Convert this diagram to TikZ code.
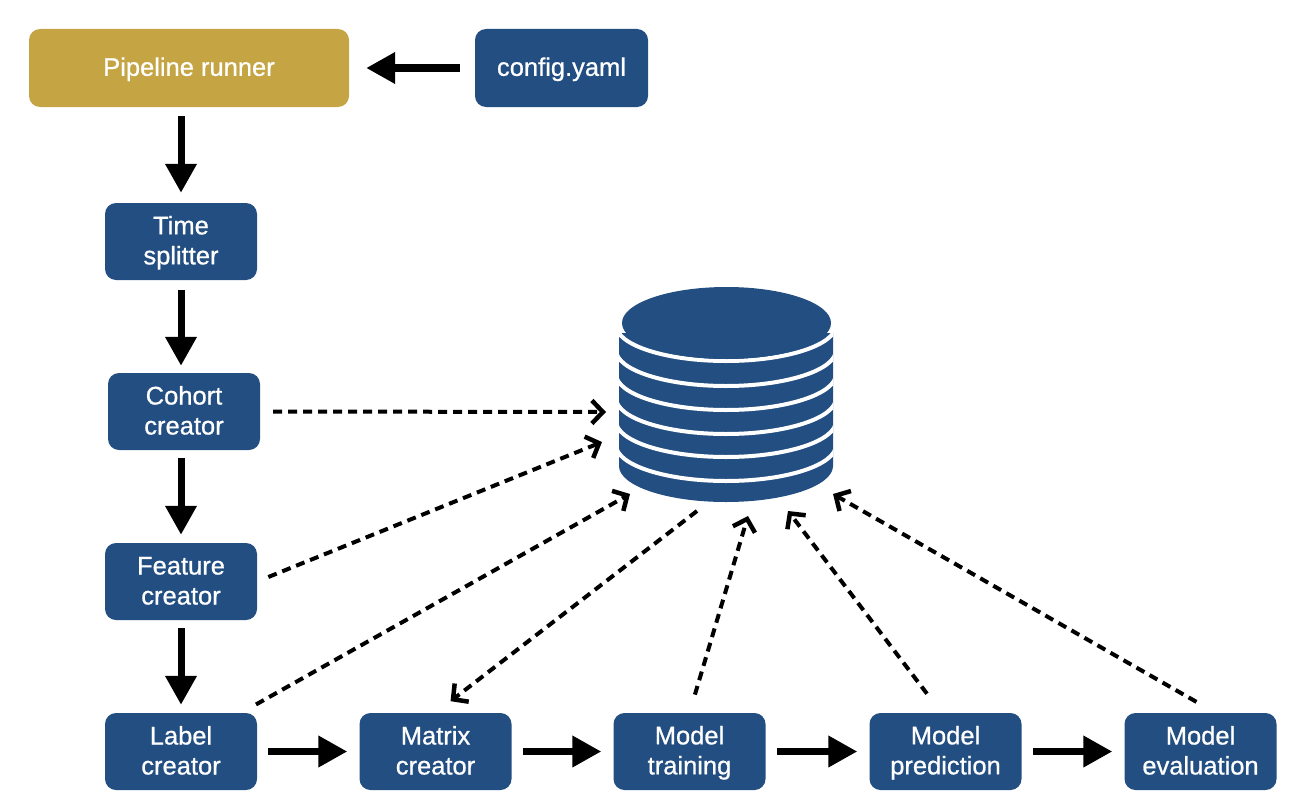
\documentclass[tikz,border=0pt]{standalone}
\usepackage{fontspec}
\setmainfont{Liberation Sans}[FakeBold=0.8]
\usetikzlibrary{arrows.meta}
\definecolor{stepblue}{HTML}{224E82}
\definecolor{rungold}{HTML}{C4A443}
\newcommand{\linestrut}{\rule[-5pt]{0pt}{26pt}}
\tikzset{
    stepbox/.style={fill=stepblue,text=white,rounded corners=11pt,minimum width=152pt,minimum height=77pt,align=center,inner sep=0pt,
        font=\fontsize{25.5}{30}\selectfont},
    bigarrow/.style={line width=7pt,-{Triangle[length=29pt,width=30pt]}},
    dasharrow/.style={line width=4pt,dash pattern=on 9pt off 6pt,-{Straight Barb[length=11pt,width=23pt,line width=4.5pt]}}
}
\begin{document}
\begin{tikzpicture}[x=1pt,y=-1pt]
    \useasboundingbox (0,0) rectangle (1308,800);
    % boxes
    \node[stepbox,fill=rungold,minimum width=320pt,minimum height=78pt] (pipeline) at (189,68) {\linestrut Pipeline runner};
    \node[stepbox,minimum width=173pt,minimum height=78pt] (config) at (561.5,68) {\linestrut config.yaml};
    \node[stepbox] (time) at (181,241.5) {\linestrut Time\\\linestrut splitter};
    \node[stepbox] (cohort) at (184,411.5) {\linestrut Cohort\\\linestrut creator};
    \node[stepbox] (feature) at (181,581.5) {\linestrut Feature\\\linestrut creator};
    \node[stepbox] (label) at (181,751.5) {\linestrut Label\\\linestrut creator};
    \node[stepbox] (matrix) at (435.5,751.5) {\linestrut Matrix\\\linestrut creator};
    \node[stepbox] (training) at (689.5,751.5) {\linestrut Model\\\linestrut training};
    \node[stepbox] (prediction) at (945.5,751.5) {\linestrut Model\\\linestrut prediction};
    \node[stepbox] (evaluation) at (1200.5,751.5) {\linestrut Model\\\linestrut evaluation};
    % database
    \fill[stepblue] (619,333) -- (833,333) -- (833,466) arc[start angle=0,end angle=-180,x radius=107pt,y radius=36pt] -- cycle;
    \begin{scope}
        \clip (619,300) rectangle (833,510);
        \foreach \y in {325,350,374,398,421,445}
        {
            \draw[white,line width=4pt] (616,\y) arc[start angle=180,end angle=360,x radius=110pt,y radius=36pt];
        }
    \end{scope}
    \fill[white] (616,325) arc[start angle=180,end angle=0,x radius=110pt,y radius=36pt] -- cycle;
    \fill[stepblue] (726.5,323) ellipse[x radius=104.5pt,y radius=36pt];
    \coordinate (dbcohort) at (606,412);
    \coordinate (dbfeature) at (602,442);
    \coordinate (dblabel) at (630,494);
    \coordinate (dbmatrix) at (697,511);
    \coordinate (dbtraining) at (748,516);
    \coordinate (dbprediction) at (788,511);
    \coordinate (dbevaluation) at (833,494);
    % solid arrows
    \draw[bigarrow,shorten <=15pt,shorten >=17pt] (config.west) -- (pipeline.east);
    \draw[bigarrow,shorten <=9pt,shorten >=10pt] (time.north |- pipeline.south) -- (time.north);
    \draw[bigarrow,shorten <=10pt,shorten >=7pt] (time.south) -- (time.south |- cohort.north);
    \draw[bigarrow,shorten <=8pt,shorten >=8pt] (feature.north |- cohort.south) -- (feature.north);
    \draw[bigarrow,shorten <=8pt,shorten >=8pt] (feature.south) -- (label.north);
    \foreach \a/\b in {label/matrix,matrix/training,training/prediction,prediction/evaluation}
    {
        \draw[bigarrow,shorten <=11pt,shorten >=12pt] (\a.east) -- (\b.west);
    }
    % dashed arrows
    \draw[dasharrow,shorten <=13pt] (cohort.east) -- (dbcohort);
    \draw[dasharrow,shorten <=12pt] (feature.east) -- (dbfeature);
    \draw[dasharrow,shorten <=17pt] ([xshift=-16pt]label.north east) -- (dblabel);
    \draw[dasharrow,shorten >=19pt] (dbmatrix) -- (matrix.north);
    \draw[dasharrow,shorten <=19pt] (training.north) -- (dbtraining);
    \draw[dasharrow,shorten <=24pt] ([xshift=-4pt]prediction.north) -- (dbprediction);
    \draw[dasharrow,shorten <=22pt] ([xshift=15pt]evaluation.north) -- (dbevaluation);
\end{tikzpicture}
\end{document}
